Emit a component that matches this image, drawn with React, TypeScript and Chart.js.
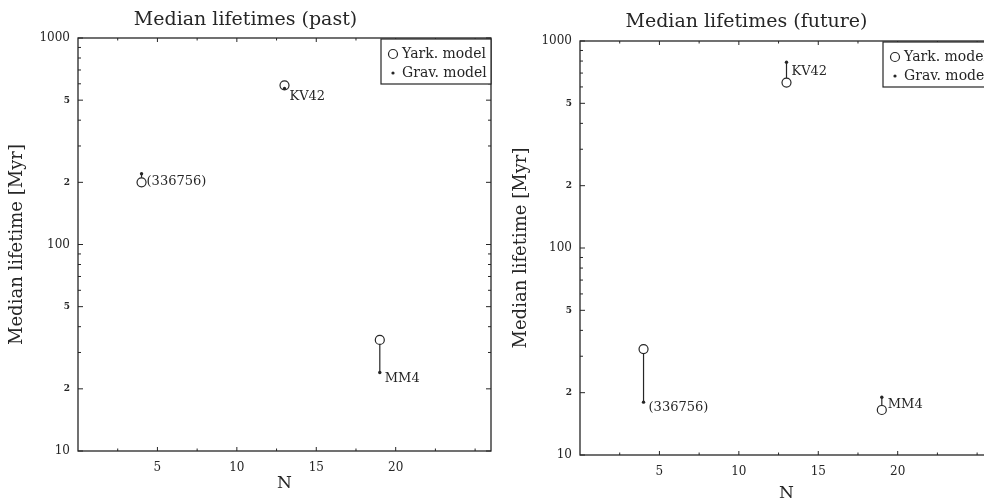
import React, { useEffect, useRef } from "react";
import { Chart, registerables } from "chart.js";

Chart.register(...registerables);

// ---------- data ----------
const OBJECT_NAMES = ["(336756)", "KV42", "MM4"];
const N_VALUES = [4, 13, 19];
const PAST_YARK = [200, 590, 34.5];
const PAST_GRAV = [220, 570, 24];
const FUTURE_YARK = [32.5, 630, 16.5];
const FUTURE_GRAV = [18, 790, 19];

const Y_TICK_VALUES = [10, 20, 30, 40, 50, 60, 70, 80, 90, 100, 200, 300, 400, 500, 600, 700, 800, 900, 1000];
const Y_TICK_LABELS: Record<number, string> = { 10: "10", 20: "2", 50: "5", 100: "100", 200: "2", 500: "5", 1000: "1000" };
const Y_BIG_LABELS = [10, 100, 1000];
const X_TICK_VALUES = [5, 10, 15, 20];
const X_MINOR_TICKS = [2.5, 7.5, 12.5, 17.5, 22.5, 25];

const LEGEND_YARK = "Yark. model";
const LEGEND_GRAV = "Grav. model";

// ---------- styles ----------
const FONT = "'DejaVu Serif', serif";
const INK = "#262626";

type Offset = { dx: number; dy: number; ref: "yark" | "grav" };
const PAST_LABEL_OFFSETS: Offset[] = [
  { dx: 5, dy: -1, ref: "yark" },
  { dx: 5, dy: 11, ref: "yark" },
  { dx: 5, dy: 6, ref: "grav" },
];
const FUTURE_LABEL_OFFSETS: Offset[] = [
  { dx: 5, dy: 5, ref: "grav" },
  { dx: 5, dy: 9, ref: "grav" },
  { dx: 6, dy: 7, ref: "grav" },
];

type Layout = {
  yAxisWidth: number;
  rightPad: number;
  titlePadTop: number;
  titlePadBottom: number;
  xAxisHeight: number;
  xTitlePadBottom: number;
  yTitlePadTop: number;
};

const PAST_LAYOUT: Layout = { yAxisWidth: 78, rightPad: 9, titlePadTop: 9, titlePadBottom: 6.2, xAxisHeight: 53, xTitlePadBottom: 9.8, yTitlePadTop: 7 };
const FUTURE_LAYOUT: Layout = { yAxisWidth: 80, rightPad: 7, titlePadTop: 11, titlePadBottom: 7.2, xAxisHeight: 49, xTitlePadBottom: 0, yTitlePadTop: 11 };

function makePlugin(yark: number[], grav: number[], offsets: Offset[]) {
  return {
    id: "panelDecor",
    afterDatasetsDraw(chart: any) {
      const { ctx, chartArea: a, scales } = chart;
      const xs = scales.x;
      const ys = scales.y;
      ctx.save();
      ctx.strokeStyle = INK;
      // frame
      ctx.lineWidth = 1.3;
      ctx.strokeRect(a.left, a.top, a.right - a.left, a.bottom - a.top);
      // inward ticks
      ctx.lineWidth = 1;
      const vline = (px: number, len: number) => {
        ctx.beginPath();
        ctx.moveTo(px, a.bottom);
        ctx.lineTo(px, a.bottom - len);
        ctx.moveTo(px, a.top);
        ctx.lineTo(px, a.top + len);
        ctx.stroke();
      };
      const hline = (py: number, len: number) => {
        ctx.beginPath();
        ctx.moveTo(a.left, py);
        ctx.lineTo(a.left + len, py);
        ctx.moveTo(a.right, py);
        ctx.lineTo(a.right - len, py);
        ctx.stroke();
      };
      X_TICK_VALUES.forEach((v) => vline(xs.getPixelForValue(v), 4));
      X_MINOR_TICKS.forEach((v) => vline(xs.getPixelForValue(v), 2.5));
      Y_TICK_VALUES.forEach((v) => hline(ys.getPixelForValue(v), Y_TICK_LABELS[v] ? 5 : 3));

      // object labels
      ctx.fillStyle = INK;
      ctx.font = `13px ${FONT}`;
      ctx.textAlign = "left";
      ctx.textBaseline = "middle";
      OBJECT_NAMES.forEach((name, i) => {
        const o = offsets[i];
        const val = o.ref === "yark" ? yark[i] : grav[i];
        ctx.fillText(name, xs.getPixelForValue(N_VALUES[i]) + o.dx, ys.getPixelForValue(val) + o.dy);
      });

      // legend box
      const bw = 110;
      const bh = 45;
      const bx = a.right - bw;
      const by = a.top + 1;
      ctx.fillStyle = "#fff";
      ctx.fillRect(bx, by, bw, bh);
      ctx.lineWidth = 1.2;
      ctx.strokeRect(bx, by, bw, bh);
      ctx.font = `14px ${FONT}`;
      ctx.fillStyle = INK;
      // yark entry
      ctx.beginPath();
      ctx.arc(bx + 12, by + 15, 4.5, 0, Math.PI * 2);
      ctx.lineWidth = 1.2;
      ctx.stroke();
      ctx.fillText(LEGEND_YARK, bx + 21, by + 15);
      // grav entry
      ctx.beginPath();
      ctx.arc(bx + 12, by + 34, 1.6, 0, Math.PI * 2);
      ctx.fill();
      ctx.fillText(LEGEND_GRAV, bx + 21, by + 34);
      ctx.restore();
    },
  };
}

function makeConfig(title: string, yark: number[], grav: number[], offsets: Offset[], L: Layout): any {
  const connectors = N_VALUES.map((n, i) => ({
    type: "line",
    label: "link " + OBJECT_NAMES[i],
    data: [
      { x: n, y: yark[i] },
      { x: n, y: grav[i] },
    ],
    showLine: true,
    pointRadius: 0,
    borderColor: INK,
    borderWidth: 1.2,
  }));
  return {
    type: "scatter",
    data: {
      datasets: [
        {
          label: LEGEND_GRAV,
          data: N_VALUES.map((n, i) => ({ x: n, y: grav[i] })),
          pointStyle: "circle",
          pointRadius: 1.7,
          backgroundColor: INK,
          borderColor: INK,
          borderWidth: 0,
        },
        {
          label: LEGEND_YARK,
          data: N_VALUES.map((n, i) => ({ x: n, y: yark[i] })),
          pointStyle: "circle",
          pointRadius: 4.5,
          backgroundColor: "#fff",
          borderColor: INK,
          borderWidth: 1.2,
        },
        ...connectors,
      ],
    },
    options: {
      animation: false,
      responsive: false,
      events: [],
      layout: { padding: { left: 0, right: L.rightPad, top: 0, bottom: 0 } },
      plugins: {
        legend: { display: false },
        tooltip: { enabled: false },
        title: {
          display: true,
          text: title,
          color: INK,
          font: { family: FONT, size: 19, weight: "normal" },
          padding: { top: L.titlePadTop, bottom: L.titlePadBottom },
        },
      },
      scales: {
        x: {
          type: "linear",
          min: 0,
          max: 26,
          afterBuildTicks: (s: any) => {
            s.ticks = X_TICK_VALUES.map((v) => ({ value: v }));
          },
          afterFit: (s: any) => {
            s.height = L.xAxisHeight;
          },
          grid: { display: false, drawTicks: false },
          border: { display: false },
          ticks: {
            autoSkip: false,
            maxRotation: 0,
            padding: 10,
            color: INK,
            font: { family: FONT, size: 12 },
          },
          title: {
            display: true,
            text: "N",
            color: INK,
            font: { family: FONT, size: 17 },
            padding: { top: 0, bottom: L.xTitlePadBottom },
          },
        },
        y: {
          type: "logarithmic",
          min: 10,
          max: 1000,
          afterBuildTicks: (s: any) => {
            s.ticks = Y_TICK_VALUES.map((v) => ({ value: v }));
          },
          afterFit: (s: any) => {
            s.width = L.yAxisWidth;
          },
          grid: { display: false, drawTicks: false },
          border: { display: false },
          ticks: {
            autoSkip: false,
            padding: 8,
            color: INK,
            callback: (v: any) => Y_TICK_LABELS[Math.round(Number(v))] ?? "",
            font: (c: any) => ({
              family: FONT,
              size: c.tick && Y_BIG_LABELS.includes(Math.round(c.tick.value)) ? 12 : 9,
              weight: c.tick && Y_BIG_LABELS.includes(Math.round(c.tick.value)) ? "normal" : "bold",
            }),
          },
          title: {
            display: true,
            text: "Median lifetime [Myr]",
            color: INK,
            font: { family: FONT, size: 18 },
            padding: { top: L.yTitlePadTop, bottom: 0 },
          },
        },
      },
    },
    plugins: [makePlugin(yark, grav, offsets)],
  };
}

function Panel(props: { title: string; yark: number[]; grav: number[]; offsets: Offset[]; layout: Layout }) {
  const ref = useRef<HTMLCanvasElement | null>(null);
  useEffect(() => {
    if (!ref.current) return;
    const chart = new Chart(ref.current, makeConfig(props.title, props.yark, props.grav, props.offsets, props.layout));
    return () => chart.destroy();
  }, []);
  return <canvas ref={ref} width={500} height={504} style={{ display: "block", width: 500, height: 504 }} />;
}

export default function App() {
  return (
    <div style={{ position: "fixed", left: 0, top: 0, width: 984, height: 504, overflow: "hidden", background: "#fff" }}>
      <div style={{ position: "absolute", left: 0, top: 0 }}>
        <Panel title="Median lifetimes (past)" yark={PAST_YARK} grav={PAST_GRAV} offsets={PAST_LABEL_OFFSETS} layout={PAST_LAYOUT} />
      </div>
      <div style={{ position: "absolute", left: 500, top: 0 }}>
        <Panel title="Median lifetimes (future)" yark={FUTURE_YARK} grav={FUTURE_GRAV} offsets={FUTURE_LABEL_OFFSETS} layout={FUTURE_LAYOUT} />
      </div>
    </div>
  );
}
